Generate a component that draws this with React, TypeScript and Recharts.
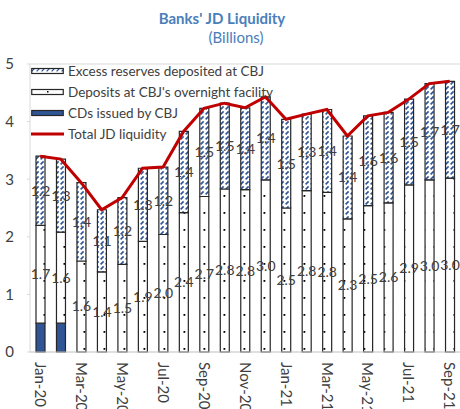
import React from 'react';
import { ComposedChart, Bar, Line, XAxis, YAxis, Legend, LabelList, ReferenceLine } from 'recharts';

const months = ['Jan-20','Feb-20','Mar-20','Apr-20','May-20','Jun-20','Jul-20','Aug-20','Sep-20','Oct-20','Nov-20','Dec-20','Jan-21','Feb-21','Mar-21','Apr-21','May-21','Jun-21','Jul-21','Aug-21','Sep-21'];
const cds = [0.5,0.5,0,0,0,0,0,0,0,0,0,0,0,0,0,0,0,0,0,0,0];
const deposits = [1.7,1.58,1.58,1.39,1.52,1.92,2.04,2.42,2.7,2.83,2.82,2.99,2.5,2.8,2.77,2.31,2.54,2.59,2.9,2.99,3.02];
const excess = [1.2,1.27,1.36,1.08,1.16,1.27,1.17,1.41,1.53,1.49,1.42,1.44,1.54,1.33,1.44,1.44,1.56,1.57,1.49,1.67,1.68];
const total = [3.4,3.35,2.94,2.47,2.68,3.19,3.21,3.83,4.23,4.32,4.24,4.43,4.04,4.13,4.21,3.75,4.1,4.16,4.39,4.66,4.7];
const yTicks = [0,1,2,3,4,5];

const data = months.map((m, i) => ({ month: m, cds: cds[i], deposits: deposits[i], excess: excess[i], total: total[i] }));

const FONT = 'Lato, "Noto Sans", sans-serif';
const BLUE = '#2f5597';
const TEXT = '#404040';

const fmt = (v: any) => (Number(v) > 0 ? Number(v).toFixed(1) : '');

const XTick = (props: any) => {
  const { x, y, payload, index } = props;
  if (index % 2 !== 0) return null;
  return (
    <text x={x} y={y} transform={`rotate(90, ${x}, ${y})`} textAnchor="start" dy="0.36em" dx={2}
      fontSize={15} fontFamily={FONT} fill={TEXT}>{payload.value}</text>
  );
};

const Swatch = ({ kind }: { kind: string }) => {
  if (kind === 'line') {
    return <svg width={33} height={8}><line x1={0} y1={4} x2={33} y2={4} stroke="#c00000" strokeWidth={3} /></svg>;
  }
  const fill = kind === 'excess' ? 'url(#hatchL)' : kind === 'deposits' ? 'url(#dotsL)' : BLUE;
  return <svg width={33} height={8}><rect x={0.75} y={1.5} width={31.5} height={5} fill={fill} stroke="#262626" strokeWidth={1.2} /></svg>;
};

const legendItems = [
  { key: 'excess', label: 'Excess reserves deposited at CBJ' },
  { key: 'deposits', label: "Deposits at CBJ's overnight facility" },
  { key: 'cds', label: 'CDs issued by CBJ' },
  { key: 'line', label: 'Total JD liquidity' },
];

const LegendContent = () => (
  <div style={{ fontFamily: FONT, fontSize: 13.5, color: TEXT }}>
    {legendItems.map((it) => (
      <div key={it.key} style={{ display: 'flex', alignItems: 'center', height: 21, whiteSpace: 'nowrap' }}>
        <Swatch kind={it.key} />
        <span style={{ marginLeft: 4 }}>{it.label}</span>
      </div>
    ))}
  </div>
);

export default function App() {
  return (
    <div style={{ position: 'absolute', left: 0, top: 0, width: 460, height: 409, background: '#fff' }}>
      <svg width={0} height={0} style={{ position: 'absolute' }}>
        <defs>
          <pattern id="hatch" patternUnits="userSpaceOnUse" width={5} height={5}>
            <rect width={5} height={5} fill="#fff" />
            <line x1={0.6} y1={4.4} x2={3.6} y2={1.4} stroke={BLUE} strokeWidth={1.6} />
          </pattern>
          <pattern id="hatchL" patternUnits="userSpaceOnUse" width={5} height={5}>
            <rect width={5} height={5} fill="#fff" />
            <line x1={0.6} y1={4.4} x2={3.6} y2={1.4} stroke={BLUE} strokeWidth={1.3} />
          </pattern>
          <pattern id="dots" patternUnits="userSpaceOnUse" width={10} height={17}>
            <rect width={10} height={17} fill="#fff" />
            <rect x={3.5} y={8} width={1.8} height={1.8} fill="#000" />
          </pattern>
          <pattern id="dotsL" patternUnits="userSpaceOnUse" width={33} height={8}>
            <rect width={33} height={8} fill="#fff" />
            <rect x={16} y={3} width={1.5} height={1.5} fill="#000" />
          </pattern>
        </defs>
      </svg>
      <svg width={460} height={60} style={{ position: 'absolute', left: 0, top: 0 }}>
        <text x={222} y={24} textAnchor="middle" fontFamily={FONT} fontWeight={700} fontSize={15} fill="#4a7ebb">Banks' JD Liquidity</text>
        <text x={236} y={43} textAnchor="middle" fontFamily={FONT} fontSize={15} fill="#4a7ebb">(Billions)</text>
      </svg>
      <div style={{ position: 'absolute', left: 0, top: 0 }}>
        <ComposedChart width={460} height={409} data={data} margin={{ top: 64, right: 0, left: 0, bottom: 0 }} barSize={9}>
          <XAxis dataKey="month" interval={0} tick={<XTick />} tickLine={false} axisLine={{ stroke: '#bfbfbf', strokeWidth: 1 }} height={57} />
          <YAxis domain={[0, 5]} ticks={yTicks} width={30} tickSize={3} tickMargin={13}
            tick={{ fontSize: 15, fontFamily: FONT, fill: TEXT }} axisLine={{ stroke: '#d9d9d9' }} tickLine={{ stroke: '#d9d9d9' }} />
          <ReferenceLine y={5} stroke="#d9d9d9" />
          <Legend content={<LegendContent />} layout="vertical" align="center" verticalAlign="middle"
            wrapperStyle={{ position: 'absolute', left: 31, top: 60, width: 'auto', height: 'auto' }} />
          <Bar dataKey="cds" name="CDs issued by CBJ" stackId="a" fill={BLUE} stroke="#262626" strokeWidth={1.2} isAnimationActive={false} />
          <Bar dataKey="deposits" name="Deposits at CBJ's overnight facility" stackId="a" fill="url(#dots)" stroke="#262626" strokeWidth={1.2} isAnimationActive={false}>
            <LabelList dataKey="deposits" position="center" formatter={fmt} fontSize={14} fontFamily={FONT} fill={TEXT} />
          </Bar>
          <Bar dataKey="excess" name="Excess reserves deposited at CBJ" stackId="a" fill="url(#hatch)" stroke="#262626" strokeWidth={1.2} isAnimationActive={false}>
            <LabelList dataKey="excess" position="center" formatter={fmt} fontSize={14} fontFamily={FONT} fill={TEXT} />
          </Bar>
          <Line dataKey="total" name="Total JD liquidity" type="linear" stroke="#c00000" strokeWidth={3} dot={false} isAnimationActive={false} />
        </ComposedChart>
      </div>
    </div>
  );
}
